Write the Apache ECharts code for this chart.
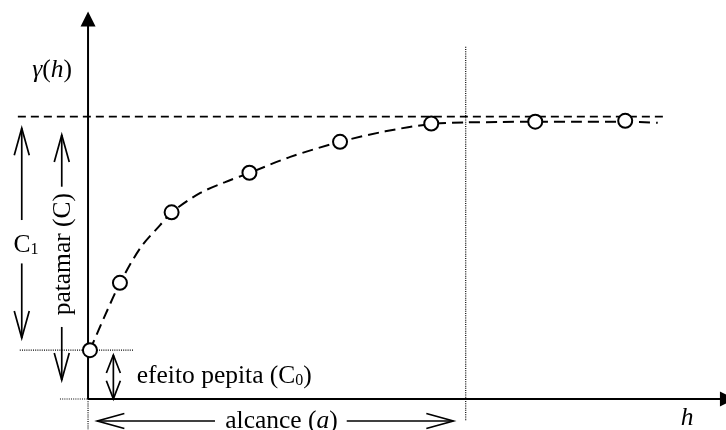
<!DOCTYPE html>
<html><head><meta charset="utf-8">
<script src="https://cdn.jsdelivr.net/npm/echarts@6/dist/echarts.min.js"></script>
<style>html,body{margin:0;padding:0;background:#fff}#chart{width:726px;height:430px}</style>
</head><body><div id="chart"></div>
<script>
// experimental semivariogram points (h, gamma)
const hExp = [0.3, 5.0, 13.1, 25.3, 39.5, 53.8, 70.1, 84.2];
const gammaExp = [12.6, 30.0, 48.2, 58.4, 66.4, 71.1, 71.6, 71.8];
// fitted model curve
const hModel = [0.3, 2.7, 5.0, 8.2, 11.3, 13.2, 17.6, 21.5, 25.2, 31.7, 39.5, 46.6, 53.8, 59.3, 64.6, 70.1, 77.1, 84.2, 89.3];
const gammaModel = [12.6, 21.7, 29.9, 39.0, 44.9, 48.3, 53.2, 56.0, 58.3, 62.5, 66.4, 69.1, 71.0, 71.4, 71.5, 71.6, 71.6, 71.6, 71.3];
// model parameters
const sillValue = 72.9;
const nuggetValue = 12.6;
const rangeValue = 59.2;
// axis extents
const xExtent = [-13.8, 100];
const yExtent = [-8, 103];
// axes (x1, y1, x2, y2)
const axisSegments = [[0, 0, 0, 100], [0, 0, 101.4, 0]];
// dashed sill line
const dashedSegments = [[-11.0, sillValue, 90.4, sillValue]];
// dotted guide lines
const dottedSegments = [
  [rangeValue, 90.9, rangeValue, -5.7],
  [-10.7, nuggetValue, 7.05, nuggetValue],
  [-4.4, 0, 0, 0],
  [0, 0, 0, -8]
];
// annotation arrows (tail -> head)
const arrowSegments = [
  [-10.39, 46.2, -10.39, 69.9],
  [-10.39, 35.0, -10.39, 15.75],
  [-4.12, 54.8, -4.12, 68.15],
  [-4.12, 18.6, -4.12, 4.9],
  [19.9, -5.68, 1.46, -5.68],
  [40.55, -5.68, 57.26, -5.68]
];
// double headed arrow (nugget effect)
const doubleArrowSegments = [[3.97, 0.05, 3.97, 11.36]];
// texts
const textLabels = ['{i|γ}({i|h})', 'C{s|1}', 'patamar (C)', 'efeito pepita (C{s|0})', 'alcance ({i|a})', '{i|h}'];
const textX = [-5.64, -9.72, -3.92, 7.63, 30.33, 93.89];
const textY = [84.9, 39.75, 37.4, 5.94, -5.68, -4.9];

const FONT = "'Liberation Serif', 'Times New Roman', serif";
const textLayout = { 2: { rotation: Math.PI / 2 }, 3: { align: 'left' } };
const richStyles = {
  i: { fontStyle: 'italic', fontSize: 25.5, fontFamily: FONT, fill: '#000' },
  s: { fontSize: 16, fontFamily: FONT, fill: '#000', verticalAlign: 'bottom' }
};

function unit(p1, p2) {
  const dx = p2[0] - p1[0], dy = p2[1] - p1[1];
  const len = Math.sqrt(dx * dx + dy * dy) || 1;
  return [dx / len, dy / len];
}
function headPoints(tip, d, L, W) {
  const n = [-d[1], d[0]];
  return [
    [tip[0] - L * d[0] + W / 2 * n[0], tip[1] - L * d[1] + W / 2 * n[1]],
    tip,
    [tip[0] - L * d[0] - W / 2 * n[0], tip[1] - L * d[1] - W / 2 * n[1]]
  ];
}
function segmentRender(opts) {
  return function (params, api) {
    const p1 = api.coord([api.value(0), api.value(1)]);
    const p2 = api.coord([api.value(2), api.value(3)]);
    const d = unit(p1, p2);
    const children = [];
    let end = p2;
    if (opts.filledHead) {
      end = [p2[0] - opts.L * d[0] * 0.9, p2[1] - opts.L * d[1] * 0.9];
      children.push({ type: 'polygon', shape: { points: headPoints(p2, d, opts.L, opts.W) }, style: { fill: '#000', stroke: null } });
    }
    children.push({
      type: 'line',
      shape: { x1: p1[0], y1: p1[1], x2: end[0], y2: end[1] },
      style: { stroke: '#000', lineWidth: opts.width, lineDash: opts.dash || null, fill: null }
    });
    if (opts.openHead) {
      children.push({ type: 'polyline', shape: { points: headPoints(p2, d, opts.L, opts.W) }, style: { stroke: '#000', lineWidth: opts.width, fill: null, lineJoin: 'miter' } });
    }
    if (opts.openTail) {
      children.push({ type: 'polyline', shape: { points: headPoints(p1, [-d[0], -d[1]], opts.L, opts.W) }, style: { stroke: '#000', lineWidth: opts.width, fill: null, lineJoin: 'miter' } });
    }
    return { type: 'group', children: children };
  };
}
function segSeries(name, data, opts) {
  return {
    type: 'custom', name: name, data: data, clip: false, silent: true, z: 2,
    encode: { x: [0, 2], y: [1, 3] },
    renderItem: segmentRender(opts)
  };
}

const chart = echarts.init(document.getElementById('chart'), null, { renderer: 'canvas' });
chart.setOption({
  animation: false,
  backgroundColor: '#fff',
  grid: { left: 0, right: 0, top: 0, bottom: 0 },
  xAxis: { type: 'value', min: xExtent[0], max: xExtent[1], show: false },
  yAxis: { type: 'value', min: yExtent[0], max: yExtent[1], show: false },
  series: [
    segSeries('guides', dottedSegments, { width: 1.2, dash: [1, 1.2] }),
    segSeries('sill', dashedSegments, { width: 1.8, dash: [8, 5] }),
    segSeries('axes', axisSegments, { width: 2, filledHead: true, L: 15, W: 15 }),
    segSeries('arrows', arrowSegments, { width: 1.7, openHead: true, L: 27, W: 15 }),
    segSeries('nugget', doubleArrowSegments, { width: 1.7, openHead: true, openTail: true, L: 18, W: 14 }),
    {
      type: 'line', name: 'modelo', z: 3,
      data: hModel.map((h, i) => [h, gammaModel[i]]),
      showSymbol: false, symbol: 'none', smooth: 0.3, silent: true,
      lineStyle: { color: '#000', width: 2, type: [11, 6] }
    },
    {
      type: 'scatter', name: 'experimental', z: 10,
      data: hExp.map((h, i) => [h, gammaExp[i]]),
      symbol: 'circle', symbolSize: 14, silent: true,
      itemStyle: { color: '#ffffff', opacity: 1, borderColor: '#000', borderWidth: 2 }
    },
    {
      type: 'custom', name: 'texts', clip: false, silent: true, z: 11,
      data: textX.map((x, i) => [x, textY[i]]),
      encode: { x: 0, y: 1 },
      renderItem: function (params, api) {
        const i = params.dataIndex;
        const p = api.coord([api.value(0), api.value(1)]);
        const lay = textLayout[i] || {};
        return {
          type: 'text', x: p[0], y: p[1], rotation: lay.rotation || 0,
          style: {
            text: textLabels[i], x: 0, y: 0,
            align: lay.align || 'center', verticalAlign: 'middle',
            fill: '#000', fontSize: 25.5, fontFamily: FONT, rich: richStyles
          }
        };
      }
    }
  ]
});
</script></body></html>
